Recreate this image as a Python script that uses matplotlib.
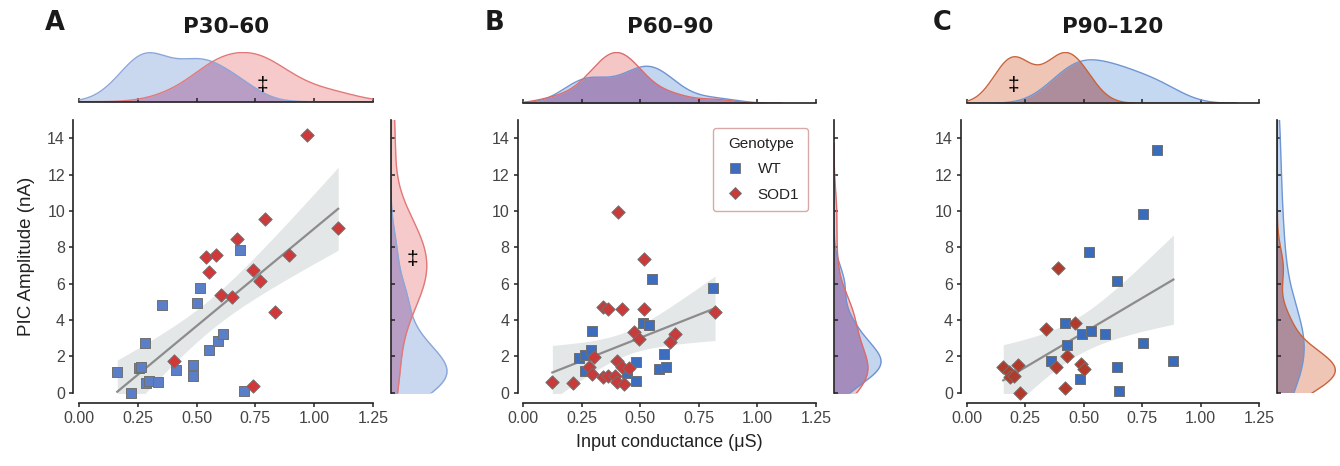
import numpy as np
import matplotlib
matplotlib.use("Agg")
import matplotlib.pyplot as plt
from matplotlib.lines import Line2D

plt.rcParams['font.family'] = ['Liberation Sans', 'DejaVu Sans']

# ---------------- data ----------------
a_wt_x = [0.163, 0.220, 0.254, 0.264, 0.282, 0.285, 0.300, 0.335, 0.353, 0.413,
          0.484, 0.484, 0.501, 0.514, 0.552, 0.593, 0.613, 0.685, 0.700]
a_wt_y = [1.12, 0.00, 1.36, 1.41, 2.72, 0.55, 0.62, 0.61, 4.81, 1.25,
          1.52, 0.92, 4.95, 5.74, 2.33, 2.85, 3.23, 7.85, 0.09]
a_sod_x = [0.403, 0.540, 0.582, 0.553, 0.603, 0.652, 0.674, 0.742, 0.771, 0.793,
           0.742, 0.832, 0.892, 0.970, 1.102]
a_sod_y = [1.76, 7.45, 7.56, 6.64, 5.38, 5.25, 8.46, 6.75, 6.15, 9.56,
           0.35, 4.44, 7.56, 14.17, 9.05]

b_wt_x = [0.239, 0.263, 0.264, 0.290, 0.293, 0.441, 0.481, 0.481, 0.512, 0.536,
          0.550, 0.580, 0.599, 0.610, 0.812]
b_wt_y = [1.89, 1.21, 2.07, 2.35, 3.41, 1.07, 1.71, 0.64, 3.85, 3.73,
          6.24, 1.32, 2.11, 1.43, 5.74]
b_sod_x = [0.124, 0.211, 0.282, 0.303, 0.293, 0.339, 0.360, 0.342, 0.360, 0.391,
           0.401, 0.405, 0.420, 0.401, 0.421, 0.431, 0.452, 0.472, 0.495, 0.516,
           0.516, 0.626, 0.647, 0.819]
b_sod_y = [0.61, 0.52, 1.43, 1.95, 1.01, 4.70, 4.59, 0.88, 0.93, 0.91,
           1.76, 9.93, 4.61, 0.61, 1.43, 0.48, 1.34, 3.34, 2.94, 7.34,
           4.61, 2.81, 3.23, 4.42]

c_wt_x = [0.360, 0.421, 0.430, 0.483, 0.493, 0.522, 0.531, 0.589, 0.642, 0.642,
          0.652, 0.752, 0.752, 0.813, 0.883]
c_wt_y = [1.74, 3.82, 2.61, 0.74, 3.23, 7.74, 3.41, 3.23, 6.16, 1.43,
          0.11, 9.82, 2.72, 13.36, 1.74]
c_sod_x = [0.156, 0.179, 0.185, 0.202, 0.221, 0.229, 0.340, 0.380, 0.390, 0.420,
           0.428, 0.461, 0.488, 0.501]
c_sod_y = [1.43, 1.16, 0.88, 0.91, 1.52, 0.00, 3.52, 1.41, 6.85, 0.24,
           2.02, 3.85, 1.58, 1.32]

panel_letters = ["A", "B", "C"]
panel_titles = ["P30\u201360", "P60\u201390", "P90\u2013120"]
genotypes = ["WT", "SOD1"]
x_ticks = [0.0, 0.25, 0.5, 0.75, 1.0, 1.25]
x_tick_labels = ["0.00", "0.25", "0.50", "0.75", "1.00", "1.25"]
y_ticks = [0, 2, 4, 6, 8, 10, 12, 14]

# ---------------- figure ----------------
W, H = 1340, 466
fig = plt.figure(figsize=(W / 100, H / 100), dpi=100)


def add_px(l, t, r, b):
    return fig.add_axes([l / W, 1 - b / H, (r - l) / W, (b - t) / H])


def group_kdes(d1, d2, cut=3, npts=400):
    arrs = [np.asarray(d, float) for d in (d1, d2)]
    hs = [a.std(ddof=1) * len(a) ** (-1 / 5) for a in arrs]
    lo = min(a.min() - cut * h for a, h in zip(arrs, hs))
    hi = max(a.max() + cut * h for a, h in zip(arrs, hs))
    grid = np.linspace(lo, hi, npts)
    out = []
    for a, h in zip(arrs, hs):
        z = (grid[:, None] - a[None, :]) / h
        dens = np.exp(-0.5 * z ** 2).sum(1) / (len(a) * h * np.sqrt(2 * np.pi))
        dens = np.where((grid >= a.min() - cut * h) & (grid <= a.max() + cut * h),
                        dens, 0.0)
        out.append(dens)
    return grid, out[0], out[1]


panels = [
    dict(x0=78.9, x1=373.0, wx=a_wt_x, wy=a_wt_y, sx=a_sod_x, sy=a_sod_y,
         wt_c="#5a7ec7", sod_c="#d0383a",
         b_fill="#c9d7ef", b_line="#8ba6d8", r_fill="#f6caca", r_line="#e27878",
         ov_fill="#b89dc4", rpk=56, lx=45, spy=101.7),
    dict(x0=523.3, x1=816.0, wx=b_wt_x, wy=b_wt_y, sx=b_sod_x, sy=b_sod_y,
         wt_c="#3d6dbf", sod_c="#c93a3a",
         b_fill="#c3d6f0", b_line="#6f93d2", r_fill="#f4c6c6", r_line="#dc6b6b",
         ov_fill="#a48dbc", rpk=47, lx=485, spy=103.3),
    dict(x0=966.7, x1=1259.3, wx=c_wt_x, wy=c_wt_y, sx=c_sod_x, sy=c_sod_y,
         wt_c="#3a6cbe", sod_c="#b23a2a",
         b_fill="#c5d8f1", b_line="#6f95d2", r_fill="#efc5b6", r_line="#c8643c",
         ov_fill="#ad8d9c", rpk=58, lx=933, spy=103.3),
]

spine_c = "#222222"
tick_lab_c = "#444444"
main_t, main_b = 120.1, 392.7
title_font = ['DejaVu Sans']

for i, p in enumerate(panels):
    x0, x1 = p["x0"], p["x1"]
    ax = add_px(x0, main_t, x1, main_b)
    ax.set_xlim(0, 1.25)
    ax.set_ylim(0, 15)
    for s in ("top", "right"):
        ax.spines[s].set_visible(False)
    ax.spines["left"].set_position(("outward", 4))
    ax.spines["bottom"].set_position(("outward", 7.2))
    ax.spines["left"].set_bounds(0, 15)
    ax.spines["bottom"].set_bounds(0, 1.25)
    for s in ("left", "bottom"):
        ax.spines[s].set_color(spine_c)
        ax.spines[s].set_linewidth(1.2)
    ax.set_xticks(x_ticks)
    ax.set_xticklabels(x_tick_labels)
    ax.set_yticks(y_ticks)
    ax.tick_params(direction="out", length=3, width=1.1, color=spine_c,
                   labelcolor=tick_lab_c, labelsize=11.5, pad=3)

    # regression with analytic 95% CI
    allx = np.array(p["wx"] + p["sx"], float)
    ally = np.array(p["wy"] + p["sy"], float)
    n = len(allx)
    slope, inter = np.polyfit(allx, ally, 1)
    xs = np.linspace(allx.min(), allx.max(), 100)
    yh = inter + slope * xs
    resid = ally - (inter + slope * allx)
    s_err = np.sqrt((resid ** 2).sum() / (n - 2))
    sxx = ((allx - allx.mean()) ** 2).sum()
    half = 2.03 * s_err * np.sqrt(1 / n + (xs - allx.mean()) ** 2 / sxx)
    ax.fill_between(xs, yh - half, yh + half, color="#e4e7e7", lw=0, zorder=1)
    ax.plot(xs, yh, color="#8c8c8c", lw=1.6, zorder=2)

    ax.scatter(p["wx"], p["wy"], marker="s", s=46, c=p["wt_c"],
               edgecolors="#707070", linewidths=0.7, clip_on=False, zorder=3)
    ax.scatter(p["sx"], p["sy"], marker="D", s=46, c=p["sod_c"],
               edgecolors="#707070", linewidths=0.7, clip_on=False, zorder=4)

    fig.text((x0 + x1) / 2 / W, 1 - 27 / H, panel_titles[i], fontsize=15.5,
             fontweight="bold", ha="center", va="center", family=title_font,
             color="#1a1a1a")
    fig.text(p["lx"] / W, 1 - 23 / H, panel_letters[i], fontsize=18.5,
             fontweight="bold", va="center", ha="left", family=title_font,
             color="#1a1a1a")

    # top marginal
    axt = add_px(x0, 52.0, x1, p["spy"])
    g, dw, ds = group_kdes(p["wx"], p["sx"])
    axt.fill_between(g, 0, dw, color=p["b_fill"], lw=0)
    axt.fill_between(g, 0, ds, color=p["r_fill"], lw=0)
    axt.fill_between(g, 0, np.minimum(dw, ds), color=p["ov_fill"], lw=0)
    axt.plot(g, dw, color=p["b_line"], lw=1)
    axt.plot(g, ds, color=p["r_line"], lw=1)
    axt.set_xlim(0, 1.25)
    axt.set_ylim(0, max(dw.max(), ds.max()) * 1.01)
    for s in ("top", "right", "left"):
        axt.spines[s].set_visible(False)
    axt.spines["bottom"].set_bounds(0, 1.25)
    axt.spines["bottom"].set_color(spine_c)
    axt.spines["bottom"].set_linewidth(1.2)
    axt.set_xticks(x_ticks)
    axt.set_yticks([])
    axt.tick_params(axis="x", direction="in", length=3, width=1.1,
                    color=spine_c, labelbottom=False)

    # right marginal
    rl = x1 + 18
    rw = 64
    axr = add_px(rl, main_t, rl + rw, main_b)
    g, dw, ds = group_kdes(p["wy"], p["sy"])
    axr.fill_betweenx(g, 0, dw, color=p["b_fill"], lw=0)
    axr.fill_betweenx(g, 0, ds, color=p["r_fill"], lw=0)
    axr.fill_betweenx(g, 0, np.minimum(dw, ds), color=p["ov_fill"], lw=0)
    axr.plot(dw, g, color=p["b_line"], lw=1)
    axr.plot(ds, g, color=p["r_line"], lw=1)
    axr.set_ylim(0, 15)
    axr.set_xlim(0, max(dw.max(), ds.max()) * rw / p["rpk"])
    for s in ("top", "right", "bottom"):
        axr.spines[s].set_visible(False)
    axr.spines["left"].set_bounds(0, 15)
    axr.spines["left"].set_color(spine_c)
    axr.spines["left"].set_linewidth(1.2)
    axr.set_yticks(y_ticks)
    axr.set_xticks([])
    axr.tick_params(axis="y", direction="in", length=3, width=1.1,
                    color=spine_c, labelleft=False)

    if i == 0:
        ax.set_ylabel("PIC Amplitude (nA)", fontsize=13.5, color="#222222",
                      labelpad=9)
        fig.text(262 / W, 1 - 86 / H, "\u2021", fontsize=15, ha="center",
                 va="center")
        fig.text(412 / W, 1 - 260 / H, "\u2021", fontsize=15, ha="center",
                 va="center")
    if i == 1:
        ax.set_xlabel("Input conductance (\u03bcS)", fontsize=13,
                      color="#222222", labelpad=6)
        handles = [
            Line2D([], [], marker="s", ls="", color=p["wt_c"],
                   markeredgecolor="#707070", markeredgewidth=0.6, markersize=6.5),
            Line2D([], [], marker="D", ls="", color=p["sod_c"],
                   markeredgecolor="#707070", markeredgewidth=0.6, markersize=6.5),
        ]
        leg = ax.legend(handles, genotypes, title="Genotype", loc="upper right",
                        fontsize=11, title_fontsize=11, frameon=True,
                        fancybox=True, borderaxespad=0.5, labelspacing=0.75,
                        borderpad=0.6, handlelength=1.6, handletextpad=0.7)
        leg.get_frame().set_edgecolor("#d9a9a9")
        leg.get_frame().set_linewidth(1.0)
        leg.get_frame().set_alpha(1)
        for t in leg.get_texts():
            t.set_color("#222222")
        leg.get_title().set_color("#222222")
    if i == 2:
        fig.text(1013 / W, 1 - 86 / H, "\u2021", fontsize=15, ha="center",
                 va="center")

fig.savefig("out.png", dpi=100)
